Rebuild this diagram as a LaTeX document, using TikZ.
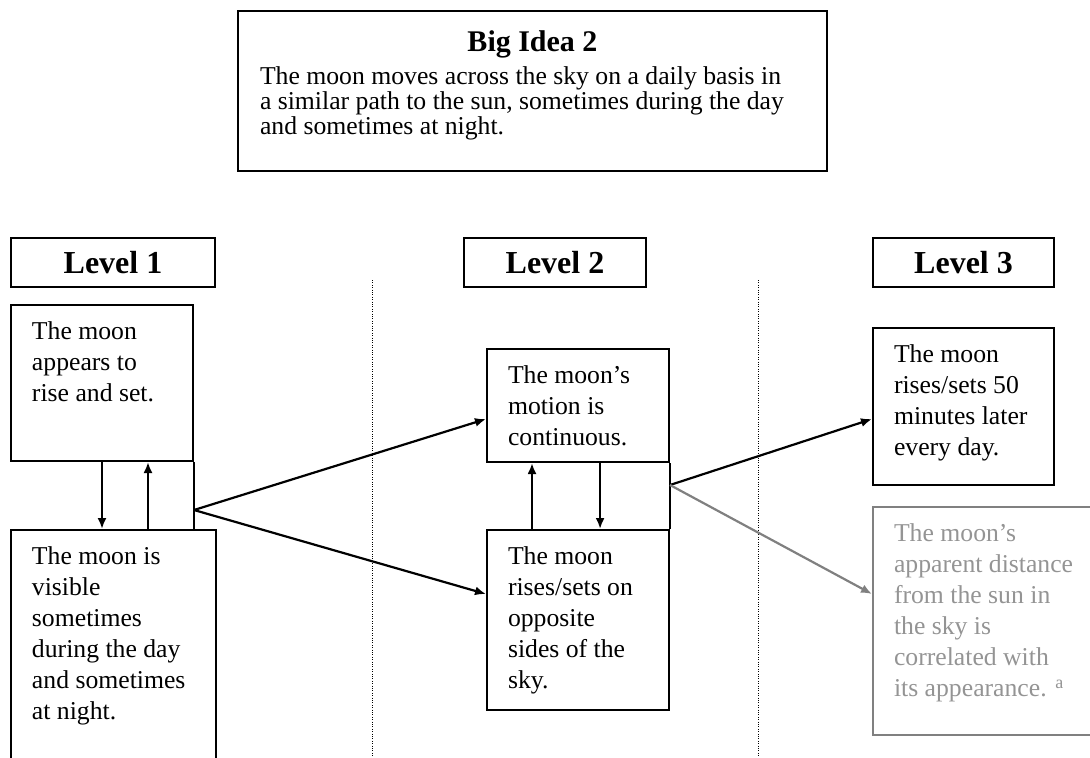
\documentclass[tikz,border=0pt]{standalone}
\usepackage{fontspec}
\setmainfont{Liberation Serif}
\usetikzlibrary{calc}
\usetikzlibrary{arrows.meta}
\colorlet{greyline}{black!50}
\colorlet{greytext}{black!42}
\newcommand{\boxtext}[3]{\parbox[t][#1][t]{#2}{\raggedright #3}}

\begin{document}
\begin{tikzpicture}[x=0.5pt, y=-0.5pt, >={Latex[length=5.5pt,width=4.5pt]},
            ideabox/.style={rectangle, draw, line width=1pt, anchor=north west, inner xsep=11pt, inner ysep=10pt, font=\fontsize{12.85}{12.5}\selectfont},
            headbox/.style={rectangle, draw, line width=1pt, anchor=north west, minimum height=24.5pt, font=\fontsize{16}{18}\selectfont\bfseries},
            levelbox/.style={rectangle, draw, line width=1pt, anchor=north west, inner xsep=10.5pt, inner ysep=8.5pt, font=\fontsize{12.85}{15.5}\selectfont},
            greybox/.style={levelbox, draw=greyline, text=greytext},
            link/.style={->, line width=1.1pt},
            divider/.style={line width=0.5pt, dash pattern=on 0.5pt off 0.7pt},
            ]
            \useasboundingbox (0,0) rectangle (1090,757);

            \node[ideabox] (idea) at (237,10) {\boxtext{60pt}{272.5pt}{{\centering\fontsize{15}{16}\selectfont\bfseries Big Idea 2\par}\vspace{4pt}The moon moves across the sky on a daily basis in\\ a similar path to the sun, sometimes during the day\\ and sometimes at night.}};

            \node[headbox, minimum width=102pt] (H1) at (10,237) {Level 1};
            \node[headbox, minimum width=91pt] (H2) at (463,237) {Level 2};
            \node[headbox, minimum width=90.5pt] (H3) at (872,237) {Level 3};

            \node[levelbox] (L1a) at (10,304) {\boxtext{61pt}{70pt}{The moon\\ appears to\\ rise and set.}};
            \node[levelbox] (L1b) at (10,529) {\boxtext{103.5pt}{81.5pt}{The moon is\\ visible\\ sometimes\\ during the day\\ and sometimes\\ at night.}};
            \node[levelbox] (L2a) at (486,348) {\boxtext{39.5pt}{70pt}{The moon's\\ motion is\\ continuous.}};
            \node[levelbox] (L2b) at (486,529) {\boxtext{73pt}{70pt}{The moon\\ rises/sets on\\ opposite\\ sides of the\\ sky.}};
            \node[levelbox] (L3a) at (872,327) {\boxtext{61.5pt}{69.5pt}{The moon\\ rises/sets 50\\ minutes later\\ every day.}};
            \node[greybox] (L3b) at (872,506) {\boxtext{97pt}{100pt}{The moon's\\ apparent distance\\ from the sun in\\ the sky is\\ correlated with\\ its appearance. \textsuperscript{a}}};

            % level separators
            \draw[divider] (372,280) -- (372,757);
            \draw[divider] (758,280) -- (758,757);

            % level 1
            \coordinate (u1) at ($(L1a.south)!0.5!(L1a.south east)$);
            \coordinate (f1) at ($(L1a.south east)+(0,48)$);
            \draw[link] (L1a.south) -- (L1a.south |- L1b.north);
            \draw[link] (u1 |- L1b.north) -- (u1);
            \draw[line width=1pt] (L1a.south east) -- (L1a.south east |- L1b.north);
            \draw[link] (f1) -- ($(L2a.west)+(0,13.5)$);
            \draw[link] (f1) -- ($(L2b.west)+(0,-26)$);

            % level 2
            \coordinate (u2) at ($(L2a.south west)!0.5!(L2a.south)$);
            \coordinate (d2) at ($(L2a.south)!0.24!(L2a.south east)$);
            \coordinate (f2) at ($(L2a.south east)+(0,22)$);
            \draw[link] (u2 |- L2b.north) -- (u2);
            \draw[link] (d2) -- (d2 |- L2b.north);
            \draw[line width=1pt] (L2a.south east) -- (L2a.south east |- L2b.north);
            \draw[link] (f2) -- ($(L3a.west)+(0,12.5)$);
            \draw[link, greyline] (f2) -- ($(L3b.west)+(0,-27)$);
        \end{tikzpicture}
\end{document}
